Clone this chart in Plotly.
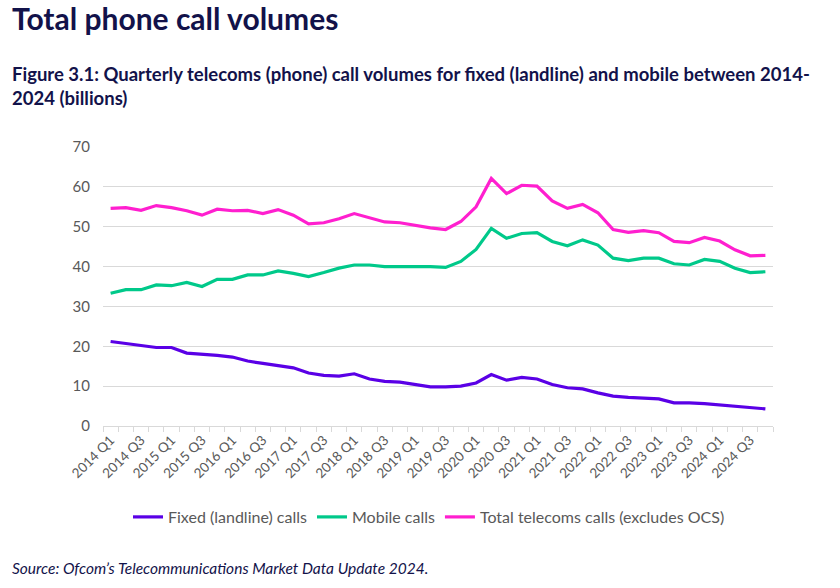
#!/usr/bin/env python3

import plotly.graph_objects as go

# Quarters 2014 Q1 .. 2024 Q4
quarters = [f"{year} Q{q}" for year in range(2014, 2025) for q in range(1, 5)]

# Call volumes (billions)
fixed_calls = [
    21.2, 20.6, 20.2, 19.7, 19.7, 18.3, 18.1, 17.7, 17.3, 16.3, 15.7, 15.2,
    14.6, 13.3, 12.7, 12.5, 13.1, 11.8, 11.2, 11.0, 10.4, 9.8, 9.8, 10.0,
    10.8, 12.9, 11.5, 12.2, 11.8, 10.4, 9.6, 9.3, 8.3, 7.5, 7.2, 7.0,
    6.8, 5.8, 5.8, 5.6, 5.3, 4.8, 4.5, 4.3,
]
mobile_calls = [
    33.3, 34.2, 34.2, 35.4, 35.2, 36.0, 35.0, 36.8, 36.8, 37.9, 37.9, 38.9,
    38.3, 37.5, 38.5, 39.6, 40.4, 40.4, 40.0, 40.0, 40.0, 40.0, 39.8, 41.3,
    44.3, 49.6, 47.1, 48.3, 48.5, 46.3, 45.2, 46.7, 45.4, 42.1, 41.5, 42.1,
    42.1, 40.7, 40.4, 41.8, 41.3, 39.6, 38.5, 38.7,
]
total_calls = [
    54.6, 54.8, 54.1, 55.3, 54.8, 54.0, 52.9, 54.4, 54.0, 54.1, 53.3, 54.3,
    52.9, 50.7, 51.0, 52.0, 53.3, 52.2, 51.2, 51.0, 50.3, 49.7, 49.3, 51.3,
    55.0, 62.1, 58.3, 60.4, 60.2, 56.5, 54.6, 55.6, 53.5, 49.3, 48.6, 49.0,
    48.5, 46.3, 46.0, 47.3, 46.4, 44.2, 42.7, 42.8,
]

SERIES = [
    ("Fixed (landline) calls", fixed_calls, "#5a00e6"),
    ("Mobile calls", mobile_calls, "#00c98a"),
    ("Total telecoms calls (excludes OCS)", total_calls, "#ff1fcf"),
]

FONT = "Lato"
NAVY = "#12124a"
GREY = "#595959"

# plot area in pixels (figure is 840 x 588)
L, R, T, B = 103, 67, 147, 162
PW, PH = 840 - L - R, 588 - T - B


def px_x(x):
    return (x - L) / PW


def px_y(y):
    return (588 - B - y) / PH


x_idx = list(range(len(quarters)))

fig = go.Figure()
for name, values, color in SERIES:
    fig.add_trace(go.Scatter(
        x=x_idx,
        y=values,
        name=name,
        mode="lines",
        line=dict(color=color, width=3.2),
    ))

# label every other quarter, ticks between all categories
label_idx = x_idx[::2]
fig.update_xaxes(
    range=[-0.5, len(quarters) - 0.5],
    tickmode="array",
    tickvals=label_idx,
    ticktext=[quarters[i] for i in label_idx],
    tickangle=-45,
    ticks="",
    showgrid=False,
    showline=True,
    linecolor="#d9d9d9",
    linewidth=1,
    zeroline=False,
    tickfont=dict(family=FONT, size=13.5, color=GREY),
    minor=dict(tick0=-0.5, dtick=1, ticks="outside", ticklen=5,
               tickcolor="#d9d9d9", showgrid=False),
)
fig.update_yaxes(
    range=[0, 70],
    dtick=10,
    showgrid=True,
    gridcolor="#d9d9d9",
    gridwidth=1,
    zeroline=False,
    ticks="",
    ticklabelstandoff=12,
    tickfont=dict(family=FONT, size=15, color=GREY),
)

fig.update_layout(
    width=840,
    height=588,
    margin=dict(l=L, r=R, t=T, b=B),
    plot_bgcolor="white",
    paper_bgcolor="white",
    showlegend=True,
    legend=dict(
        orientation="h",
        x=px_x(429), xanchor="center",
        y=px_y(517), yanchor="middle",
        font=dict(family=FONT, size=16, color=GREY),
        itemwidth=30,
    ),
    annotations=[
        dict(text="<b>Total phone call volumes</b>",
             xref="paper", yref="paper", x=px_x(10), y=px_y(-2),
             xanchor="left", yanchor="top", align="left",
             font=dict(family=FONT, size=30, color=NAVY), showarrow=False),
        dict(text="<b>Figure 3.1: Quarterly telecoms (phone) call volumes for fixed (landline) "
                  "and mobile between 2014-<br>2024 (billions)</b>",
             xref="paper", yref="paper", x=px_x(10), y=px_y(61),
             xanchor="left", yanchor="top", align="left",
             font=dict(family=FONT, size=18.5, color=NAVY), showarrow=False),
        dict(text="<i>Source: Ofcom’s Telecommunications Market Data Update 2024.</i>",
             xref="paper", yref="paper", x=px_x(10), y=px_y(568),
             xanchor="left", yanchor="middle", align="left",
             font=dict(family=FONT, size=15.5, color=NAVY), showarrow=False),
    ],
)

fig.write_html("out.html", config={"displayModeBar": False},
               post_script="document.body.style.margin='0';")
